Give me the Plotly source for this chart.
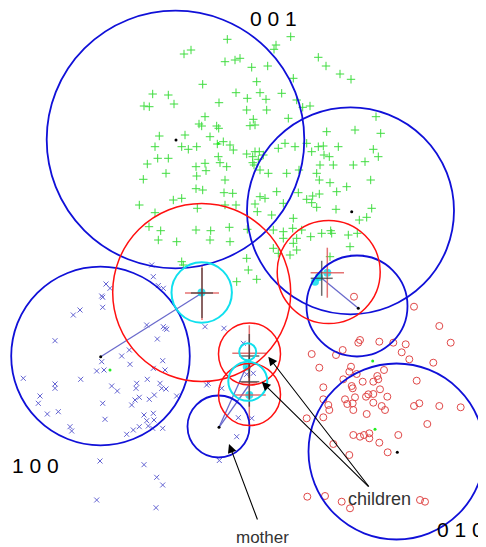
import plotly.graph_objects as go

# ---------------- data (pixel-like coordinate space, y grows downward) ----------------
green_x = [227.3,290.7,276,274,184,191,225,235,240,251.7,267.7,318.3,326,340,351,293.3,202.7,256.7,260,236,
           152.7,168.3,144,149.3,174,219,247.3,266,281.7,296.7,310,302.7,246.7,266.7,205,199,201.7,216.7,218.7,250,
           255,253.3,288.3,326.7,355,376,380.7,159.3,185,210,217.3,223.3,230,233.3,155,181.7,188.3,196.7,246.7,252.7,
           255,259.3,258.3,263.3,252.7,254,278.3,285,295,306.7,311.7,318.3,323.3,324,329.3,338.3,373.3,378.3,147.3,168.3,
           157.7,196,205,220,218.3,206,226.7,166,143.3,196.7,225,260,268.3,286.7,299,320,333.3,316.7,319.3,330,
           353.3,365,370.7,224,232.7,202.7,196,260,265,276.7,298.3,306.7,312.7,311.7,319.3,336.7,346.7,173.3,181.7,139.3,
           155,197.3,225,236,255,257.3,283.3,293.3,271.7,316.7,336,371.7,359.3,366.7,149,160.7,196,210.7,229.3,247.3,
           273.3,283.3,292.7,301.7,310.7,321.7,330.7,357.3,158.3,176.7,210,230,246.7,248.3,256.7,236.7,181.7,183.3,
           273.3,278.3,293.3,290,296.7,331.7,348.3,350,330,283.3,296.7]
green_y = [39.3,36.7,45,49.3,54,50,61.7,60,58.3,67.3,66,57.3,66,74,79.3,78.3,84.3,81.7,92.7,92.7,
           94,95,106,106.7,104,102.7,98.3,99.3,93.3,100,106,107.3,110,110,116.7,124,126,126,128.3,125.7,
           125,119.3,118.3,131.7,130,116.7,133.3,136,135,136.7,144,141.7,145,150,146.7,146.7,149.3,146.7,154,156.7,
           151.7,151.7,159.3,155,162.7,165,148.3,143.3,146.7,143.3,151.7,146.7,146,155,156.7,146.7,149.3,156.7,164,158.3,
           158.3,166.7,163.3,162.7,156.7,170.7,166.7,173.3,179.3,176,180,170,173.3,173.3,170,165,165,173.3,180,182.7,
           165,161.7,180,192.7,193.3,190,188.7,196.7,198.3,191.7,192.7,199.3,196,202.7,194,191.7,186.7,200,198.3,205,
           212.7,208.3,205,205,204,211.7,203.3,218.3,215,207.3,209.3,208.3,220,217.3,226.7,230.7,230,230.7,227.3,229.3,
           230,231.7,228.3,230,236.7,233.3,230.7,233.3,240,241.7,240,241.7,258.3,270,279.3,281.7,261.7,265,
           248.3,253.3,243.3,255,250,233.3,235,246.7,256.7,238.3,238.3]

blue_x = [106,110,101.7,102.7,153.3,151.7,80,73.3,102.7,55,146.7,163.3,166.7,157.3,121.7,129.3,101.7,96.7,104,130,
          162.7,153.3,80.7,55,55,23.3,111.7,117.3,136.7,136,147.3,160,161.7,166,40,38.3,47.3,58.3,102.7,139.3,
          135,131.7,149.3,154.3,176.7,144,146.7,154,148.3,152.7,162.7,105,70,71.7,126.7,133.3,139.3,100,144,156.7,
          162.7,96.7,156,165,205,224,165,208.3,153.3,243.3,253.3,246.7,221.7,238.3,251.7,236.7,219.3,163.3,158.3,206.7]
blue_y = [284,288.3,296,297.3,276.7,265,310,315,307.3,340.7,325,326.7,329.3,339,356,350,361.7,371,370,364.3,
          360.7,368.3,379.3,384,388.3,378.3,386,391,383.3,388.3,379.3,383.3,388.3,389,396,403.3,414,411.7,403.3,397.3,
          400,405,399.3,395,396,415,420.7,420,426,428.3,428.3,419.3,426.7,431,434.3,430,426.7,461,464.7,477.3,
          485,500,507.7,328.3,326.7,328.3,370,383.3,413.3,343.3,373.3,374.3,388.3,417.7,418.3,436.7,460.5,288.3,285.6,385]

red_x = [439.3,450.7,414,379.3,358.3,360,393.3,405.7,401.7,409.3,433.3,342.7,336,311.7,319.3,351,349.3,356.7,384,377.3,
         378.3,373.3,362.7,343.3,323.3,351.7,352.7,416.7,323.3,328.3,329.3,345,347.3,352.7,355,353.3,366,368.3,373.3,380,
         373.3,381.7,385,387.3,366.7,414,419.3,439.3,460.7,485,306.7,323.3,353.3,360,364,369.3,369.3,379.3,398.3,427.3,
         333.3,349.3,387.7,307.3,325,341.7,350,420,425,485,354]
red_y = [326,342.7,306.7,341.7,342.7,340,342.7,344.3,352.3,359.3,362.7,350,355,354,367.7,366.7,371.7,374,370,376,
         379.3,381.7,381.7,379.3,387.3,386,388.3,380.7,399.3,405,410,399.3,404,403.3,397.3,410,396.7,394.3,394,389.3,
         402.7,406,410,396.7,414,406,403.3,406,407.3,416,418.3,417.3,435,436.7,435,433.3,438.3,442.7,435,424,
         444,455,452.3,496.7,496,501.7,508.3,500,501.7,363.3,296.7]

# cluster circles: centre x, centre y, radius
blue_cx = [175.5, 350.5, 100.5, 357, 396.5, 218.5]
blue_cy = [139.5, 210.8, 356, 306, 451.5, 426.5]
blue_r = [128.8, 103.5, 89.3, 50.5, 88, 31]
red_cx = [201.7, 328.7, 249.5, 249.5]
red_cy = [292.5, 272, 354, 394.5]
red_r = [89, 51.5, 31, 31]
cyan_cx = [201.7, 247.7, 247.8]
cyan_cy = [292.5, 351.7, 381.3]
cyan_r = [30.2, 8.5, 19.5]

# crosses: centre x, centre y, half width, half height
red_cross_x = [202, 327.3, 249.3, 249.3, 249.3]
red_cross_y = [293, 272.7, 353.3, 395, 382.7]
red_cross_w = [17, 16.7, 17, 16.5, 8]
red_cross_h = [27, 25, 28, 30, 0]
gray_cross_x = [202, 321.7, 249.3, 249.3]
gray_cross_y = [293, 278.3, 356, 381.7]
gray_cross_w = [11, 11, 10, 10]
gray_cross_h = [25, 17.5, 22, 25]

cyan_blob_x = [315, 319, 327.3, 246.7, 249.3, 201.5]
cyan_blob_y = [281.7, 277, 272.7, 366.7, 395, 292.5]

black_x = [176, 351.7, 100.7, 358.3, 219, 397.3]
black_y = [140, 211.7, 356.7, 308.3, 427.3, 452.3]
gdot_x = [110, 372.7, 375, 218.3]
gdot_y = [370, 361, 429.3, 143.5]

# links from parent centres to child centres
link_from_x = [100.7, 358.3, 219, 219]
link_from_y = [356.7, 308.3, 427.3, 427.3]
link_to_x = [202, 321.7, 246.7, 249]
link_to_y = [293, 278.3, 366, 385]

corner_labels = ["0 0 1", "1 0 0", "0 1 0"]
corner_x = [273.5, 35, 460]
corner_y = [18, 465, 529]

# ---------------- figure ----------------
fig = go.Figure()

fig.add_trace(go.Scatter(x=green_x, y=green_y, mode="markers",
                         marker=dict(symbol="cross-thin", size=6, color="#3fdc3f",
                                     line=dict(width=1, color="#3fdc3f"))))
fig.add_trace(go.Scatter(x=blue_x, y=blue_y, mode="markers",
                         marker=dict(symbol="x-thin", size=5, color="#6464d2",
                                     line=dict(width=1, color="#6464d2"))))
fig.add_trace(go.Scatter(x=red_x, y=red_y, mode="markers",
                         marker=dict(symbol="circle-open", size=7, color="#e04848",
                                     line=dict(width=1))))

# links
lx, ly = [], []
for a, b, c, d in zip(link_from_x, link_from_y, link_to_x, link_to_y):
    lx += [a, c, None]
    ly += [b, d, None]
fig.add_trace(go.Scatter(x=lx, y=ly, mode="lines", line=dict(color="#6a6acc", width=1.3)))

# cyan blobs
fig.add_trace(go.Scatter(x=cyan_blob_x, y=cyan_blob_y, mode="markers",
                         marker=dict(symbol="circle", size=8, color="rgba(0,220,235,0.8)")))

# crosses
def cross_coords(cx, cy, w, h):
    xs, ys = [], []
    for a, b, ww, hh in zip(cx, cy, w, h):
        xs += [a - ww, a + ww, None]
        ys += [b, b, None]
        if hh > 0:
            xs += [a, a, None]
            ys += [b - hh, b + hh, None]
    return xs, ys

rx, ry = cross_coords(red_cross_x, red_cross_y, red_cross_w, red_cross_h)
fig.add_trace(go.Scatter(x=rx, y=ry, mode="lines", line=dict(color="rgba(225,90,90,0.85)", width=1.5)))
gx, gy = cross_coords(gray_cross_x, gray_cross_y, gray_cross_w, gray_cross_h)
fig.add_trace(go.Scatter(x=gx, y=gy, mode="lines", line=dict(color="rgba(60,60,60,0.75)", width=1.5)))

fig.add_trace(go.Scatter(x=black_x, y=black_y, mode="markers",
                         marker=dict(symbol="circle", size=3, color="black")))
fig.add_trace(go.Scatter(x=gdot_x, y=gdot_y, mode="markers",
                         marker=dict(symbol="circle", size=3, color="#22ee22")))

shapes = []
for cx, cy, r in zip(blue_cx, blue_cy, blue_r):
    shapes.append(dict(type="circle", xref="x", yref="y", x0=cx - r, x1=cx + r, y0=cy - r, y1=cy + r,
                       line=dict(color="#1010d8", width=1.8)))
for cx, cy, r in zip(red_cx, red_cy, red_r):
    shapes.append(dict(type="circle", xref="x", yref="y", x0=cx - r, x1=cx + r, y0=cy - r, y1=cy + r,
                       line=dict(color="#ff1010", width=1.5)))
for cx, cy, r in zip(cyan_cx, cyan_cy, cyan_r):
    shapes.append(dict(type="circle", xref="x", yref="y", x0=cx - r, x1=cx + r, y0=cy - r, y1=cy + r,
                       line=dict(color="#10e0ee", width=2)))

annotations = []
for t, x, y in zip(corner_labels, corner_x, corner_y):
    annotations.append(dict(x=x, y=y, xref="x", yref="y", text=t, showarrow=False,
                            font=dict(family="Liberation Sans, Arial", size=21, color="black")))

annotations.append(dict(x=379, y=499, xref="x", yref="y", text="children", showarrow=False,
                        font=dict(family="Liberation Sans, Arial", size=18, color="#333333")))
annotations.append(dict(x=262, y=537, xref="x", yref="y", text="mother", showarrow=False,
                        font=dict(family="Liberation Sans, Arial", size=17, color="#333333")))
arrows = [(370, 488, 268.3, 356.7), (370, 488, 261.7, 381.7), (258, 521, 229, 444)]
for tx, ty, hx, hy in arrows:
    annotations.append(dict(x=hx, y=hy, ax=tx, ay=ty, xref="x", yref="y", axref="x", ayref="y",
                            text="", showarrow=True, arrowhead=2, arrowsize=1.6, arrowwidth=1.1,
                            arrowcolor="black"))

# The page body has an 8px default margin; the figure is sized to fit the
# remaining window and the axis ranges keep one data unit per window pixel.
fig.update_layout(
    width=478, height=539,
    margin=dict(l=0, r=0, t=0, b=0),
    paper_bgcolor="white", plot_bgcolor="white",
    showlegend=False,
    xaxis=dict(range=[8, 486], visible=False, fixedrange=True),
    yaxis=dict(range=[547, 8], visible=False, fixedrange=True),
    shapes=shapes,
    annotations=annotations,
)

fig.write_html("out.html")
